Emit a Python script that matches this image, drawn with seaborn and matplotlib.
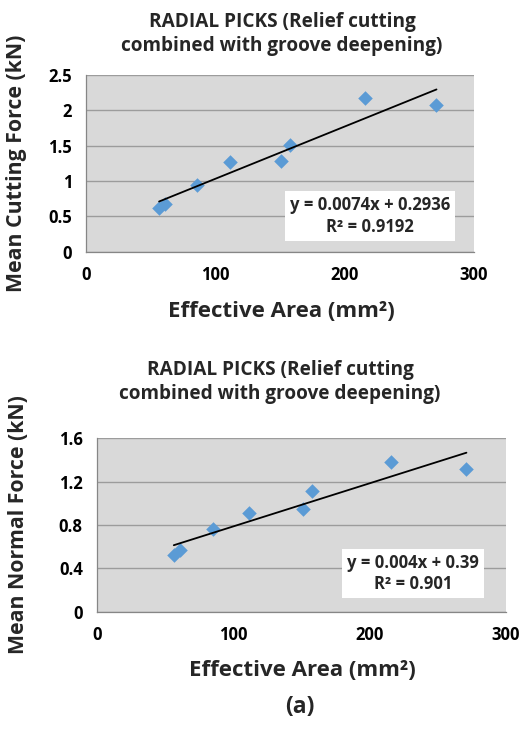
import matplotlib
matplotlib.use("Agg")
import matplotlib.pyplot as plt
import seaborn as sns
import pandas as pd

# Data
effective_area = [56.5, 61, 85.6, 111.5, 151, 157.5, 216, 271]
mean_cutting_force = [0.62, 0.675, 0.94, 1.265, 1.28, 1.515, 2.18, 2.07]
mean_normal_force = [0.523, 0.57, 0.766, 0.908, 0.945, 1.117, 1.38, 1.318]

title_text = "RADIAL PICKS (Relief cutting\ncombined with groove deepening)"
x_label = "Effective Area (mm²)"
y_label_top = "Mean Cutting Force (kN)"
y_label_bottom = "Mean Normal Force (kN)"
eq_top = "y = 0.0074x + 0.2936\nR² = 0.9192"
eq_bottom = "y = 0.004x + 0.39\nR² = 0.901"
x_ticks = [0, 100, 200, 300]
y_ticks_top = [0, 0.5, 1, 1.5, 2, 2.5]
y_ticks_top_labels = ["0", "0.5", "1", "1.5", "2", "2.5"]
y_ticks_bottom = [0, 0.4, 0.8, 1.2, 1.6]
y_ticks_bottom_labels = ["0", "0.4", "0.8", "1.2", "1.6"]

df = pd.DataFrame({"area": effective_area, "cut": mean_cutting_force, "normal": mean_normal_force})

sns.set_style("white")
plt.rcParams["font.family"] = ["Open Sans", "DejaVu Sans"]
plt.rcParams["font.weight"] = "bold"

W, H = 525, 732
fig = plt.figure(figsize=(W / 100, H / 100), dpi=100)

def px_axes(l, r, t, b):
    return fig.add_axes([l / W, 1 - b / H, (r - l) / W, (b - t) / H])

ax1 = px_axes(86, 474, 75, 251.7)
ax2 = px_axes(96.7, 506, 438.3, 611.7)

marker_color = "#5B9BD5"
grid_color = "#9C9C9C"
spine_color = "#868686"

def style(ax, yvar, yticks, ylabels, ylim, ylab, ylab_x, eq, eq_x, eq_y):
    ax.set_facecolor("#D9D9D9")
    sns.scatterplot(data=df, x="area", y=yvar, ax=ax, marker="D", s=55,
                    color=marker_color, edgecolor=marker_color, linewidth=0, zorder=3)
    sns.regplot(data=df, x="area", y=yvar, ax=ax, scatter=False, ci=None,
                truncate=True, color="black", line_kws={"linewidth": 1.3, "zorder": 4})
    ax.set_xlim(0, 300)
    ax.set_ylim(*ylim)
    ax.set_xticks(x_ticks)
    ax.set_xticklabels([str(t) for t in x_ticks], fontsize=12, fontweight="bold")
    ax.set_yticks(yticks)
    ax.set_yticklabels(ylabels, fontsize=12, fontweight="bold")
    ax.yaxis.grid(True, color=grid_color, linewidth=1.0, zorder=0)
    ax.xaxis.grid(False)
    ax.set_axisbelow(True)
    for s in ["top", "right"]:
        ax.spines[s].set_visible(False)
    for s in ["left", "bottom"]:
        ax.spines[s].set_color(spine_color)
        ax.spines[s].set_linewidth(0.9)
    ax.tick_params(axis="both", direction="out", length=4, width=0.9,
                   color=spine_color, pad=6, labelcolor="black")
    ax.set_xlabel(x_label, fontsize=16, fontweight="bold")
    ax.set_ylabel(ylab, fontsize=15.3, fontweight="bold")
    ax.xaxis.label.set_verticalalignment("center")
    ax.yaxis.label.set_verticalalignment("center")
    ax.xaxis.set_label_coords(0.503, -0.34)
    ax.yaxis.set_label_coords(ylab_x, 0.5)
    ax.text(eq_x, eq_y, eq, transform=ax.transAxes, ha="center", va="center",
            fontsize=12, fontweight="bold", linespacing=1.25, zorder=5,
            bbox=dict(boxstyle="square,pad=0.3", facecolor="white", edgecolor="none"))

style(ax1, "cut", y_ticks_top, y_ticks_top_labels, (0, 2.5), y_label_top, -0.18,
      eq_top, 0.732, 0.203)
style(ax2, "normal", y_ticks_bottom, y_ticks_bottom_labels, (0, 1.6), y_label_bottom, -0.19,
      eq_bottom, 0.773, 0.221)

fig.text(282 / W, 1 - 34 / H, title_text, ha="center", va="center",
         fontsize=13.7, fontweight="bold", linespacing=1.3)
fig.text(280 / W, 1 - 382 / H, title_text, ha="center", va="center",
         fontsize=13.7, fontweight="bold", linespacing=1.3)
fig.text(300 / W, 1 - 707 / H, "(a)", ha="center", va="center",
         fontsize=16.5, fontweight="bold")

fig.savefig("out.png", dpi=100, facecolor="white")
